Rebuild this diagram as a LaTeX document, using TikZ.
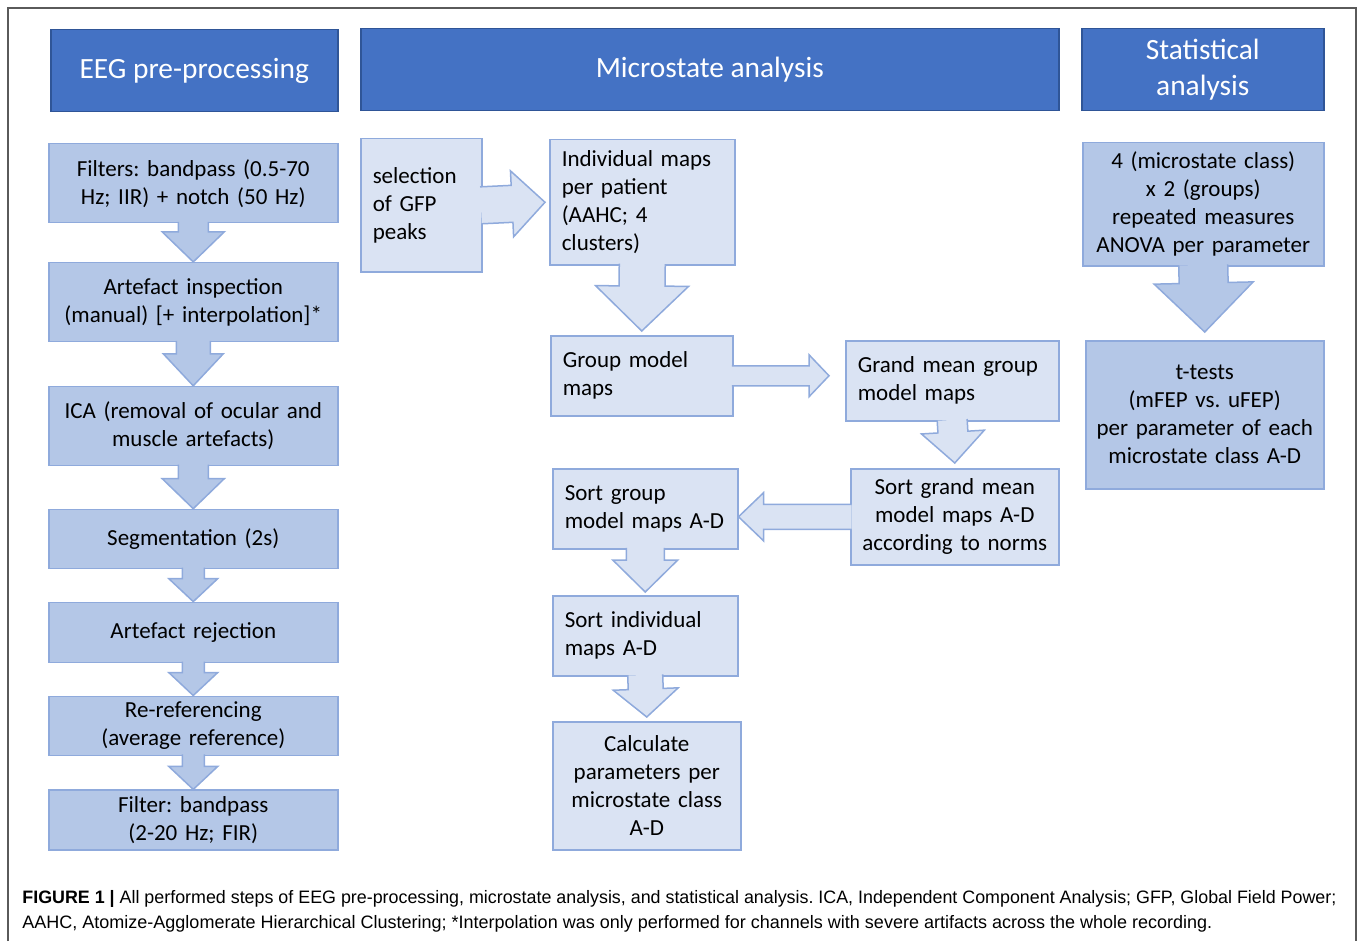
\documentclass[tikz,border=0pt]{standalone}
\usepackage{fontspec}
\setmainfont{Carlito}
\newfontfamily\capfont{Liberation Sans}
\usepackage{graphicx}
\usetikzlibrary{positioning, calc}
\frenchspacing

\definecolor{hdfill}{HTML}{4472C4}
\definecolor{hdline}{HTML}{2F5597}
\definecolor{dkfill}{HTML}{B4C7E7}
\definecolor{ltfill}{HTML}{DAE3F3}
\definecolor{bdline}{HTML}{8FAADC}
\definecolor{framegray}{HTML}{5A5A5A}

% block arrow: fill, start, tip, shaft half width, head half width, head length
\newcommand{\blkarrow}[6]{%
  \coordinate (bs) at (#2);
  \coordinate (bt) at (#3);
  \coordinate (ab) at ($(bs)!-0.8pt!(bt)$);
  \coordinate (hb) at ($(bt)!#6!(bs)$);
  \fill[#1] ($(ab)!#4!90:(bt)$) -- ($(hb)!#4!90:(bt)$) -- ($(hb)!#5!90:(bt)$) -- (bt)
    -- ($(hb)!#5!-90:(bt)$) -- ($(hb)!#4!-90:(bt)$) -- ($(ab)!#4!-90:(bt)$) -- cycle;
  \draw[bdline, line width=0.75pt] ($(ab)!#4!90:(bt)$) -- ($(hb)!#4!90:(bt)$)
    -- ($(hb)!#5!90:(bt)$) -- (bt) -- ($(hb)!#5!-90:(bt)$) -- ($(hb)!#4!-90:(bt)$)
    -- ($(ab)!#4!-90:(bt)$);
}

\begin{document}
\begin{tikzpicture}[x=0.5pt, y=-0.5pt, node distance=20pt,
  hd/.style={draw=hdline, line width=0.75pt, fill=hdfill, text=white, anchor=north west,
    font=\fontsize{14.7}{18}\selectfont, align=center, inner sep=0pt, minimum height=41pt},
  box/.style={draw=bdline, line width=0.75pt, anchor=north west, inner ysep=0pt,
    font=\fontsize{11.5}{14}\selectfont},
  lbox/.style={box, fill=dkfill, align=center, inner xsep=4pt, text width=136.5pt},
  mbox/.style={box, fill=ltfill, align=left, inner xsep=6pt},
  cbox/.style={box, fill=ltfill, align=center, inner xsep=4pt},
  sbox/.style={box, fill=dkfill, align=center, inner xsep=4pt}]

\useasboundingbox (0,0) rectangle (1358,941);
% frame
\draw[framegray, line width=0.75pt] (8,941) -- (8,8) -- (1356,8) -- (1356,941);

% headers
\node[hd, minimum width=143.5pt] (hpre) at (50,29) {EEG pre-processing};
\node[hd, minimum width=349pt] (hmic) at (360,28) {Microstate analysis};
\node[hd, minimum width=121pt] (hsta) at (1081,28) {Statistical\\analysis};

% EEG pre-processing
\node[lbox, minimum height=39.5pt] (filt) at (48,143) {Filters: bandpass (0.5-70\\Hz; IIR) + notch (50 Hz)};
\node[lbox, minimum height=39.5pt, below=19.2pt of filt] (insp) {Artefact inspection\\(manual) [+ interpolation]*};
\node[lbox, minimum height=39.5pt, below=21.7pt of insp] (ica) {ICA (removal of ocular and\\muscle artefacts)};
\node[lbox, minimum height=29.5pt, below=21.2pt of ica] (seg) {Segmentation (2s)};
\node[lbox, minimum height=30pt, below=16.2pt of seg] (rej) {Artefact rejection};
\node[lbox, minimum height=29.5pt, below=16.2pt of rej] (reref) {Re-referencing\\(average reference)};
\node[lbox, minimum height=30pt, below=16.7pt of reref] (bpf) {Filter: bandpass\\(2-20 Hz; FIR)};

% Microstate analysis
\node[mbox, text width=48.5pt, minimum height=66.5pt] (sel) at (360,138) {selection\\of GFP\\peaks};
\node[mbox, text width=80.5pt, minimum height=62.5pt] (ind) at (549,139) {Individual maps\\per patient\\(AAHC; 4\\clusters)};
\node[mbox, text width=79pt, minimum height=40pt] (grp) at (550,335) {Group model\\maps};
\node[mbox, text width=94.5pt, minimum height=40pt] (gmn) at (845,340) {Grand mean group\\model maps};
\node[cbox, text width=96pt, minimum height=48pt] (sgm) at (850,468) {Sort grand mean\\model maps A-D\\according to norms};
\node[mbox, text width=80.5pt, minimum height=40pt] (sgp) at (552,468) {Sort group\\model maps A-D};
\node[mbox, text width=80.5pt, minimum height=40pt] (sind) at (552,595) {Sort individual\\maps A-D};
\node[cbox, text width=86pt, minimum height=64pt] (cpar) at (552,721) {Calculate\\parameters per\\microstate class\\A-D};

% Statistical analysis
\node[sbox, text width=112.5pt, minimum height=61.5pt] (anova) at (1082,142) {4 (microstate class)\\x 2 (groups)\\repeated measures\\ANOVA per parameter};
\node[sbox, text width=111pt, minimum height=74pt] (ttest) at (1085,340) {t-tests\\(mFEP vs. uFEP)\\per parameter of each\\microstate class A-D};

% block arrows
\blkarrow{dkfill}{filt.south}{insp.north}{7.5pt}{15.5pt}{15pt}
\blkarrow{dkfill}{insp.south}{ica.north}{8.5pt}{15pt}{16pt}
\blkarrow{dkfill}{ica.south}{seg.north}{7.5pt}{15.5pt}{15pt}
\blkarrow{dkfill}{seg.south}{rej.north}{5.5pt}{12.25pt}{11.5pt}
\blkarrow{dkfill}{rej.south}{reref.north}{5.5pt}{12.25pt}{11.5pt}
\blkarrow{dkfill}{reref.south}{bpf.north}{5.5pt}{12.25pt}{11.5pt}

\blkarrow{ltfill}{sel.east}{$(ind.west)+(-4,0)$}{9.25pt}{16.5pt}{16.5pt}
\blkarrow{ltfill}{ind.south}{$(grp.north)+(0,-4)$}{11.5pt}{23.25pt}{22.5pt}
\blkarrow{ltfill}{grp.east}{$(gmn.west)+(-16,-5)$}{5pt}{10.5pt}{10pt}
\blkarrow{ltfill}{gmn.south}{$(sgm.north)+(0,-5)$}{7.5pt}{15.75pt}{15.5pt}
\blkarrow{ltfill}{sgm.west}{$(sgp.east)+(0,8)$}{6.25pt}{12pt}{12.5pt}
\blkarrow{ltfill}{sgp.south}{$(sind.north)+(0,-3)$}{9.5pt}{16.25pt}{16pt}
\blkarrow{ltfill}{sind.south}{$(cpar.north)+(0,-4)$}{8.75pt}{16.25pt}{14pt}

\blkarrow{dkfill}{anova.south}{$(ttest.north)+(0,-8)$}{12.25pt}{24.75pt}{24.5pt}

% caption
\node[anchor=base west, inner sep=0pt] (cap1) at (22,903) {\resizebox{657pt}{\height}{\capfont\fontsize{9}{11}\selectfont\textbf{FIGURE 1 |} All performed steps of EEG pre-processing, microstate analysis, and statistical analysis. ICA, Independent Component Analysis; GFP, Global Field Power;}};
\node[anchor=base west, inner sep=0pt] (cap2) at (22,928) {\resizebox{595pt}{\height}{\capfont\fontsize{9}{11}\selectfont AAHC, Atomize-Agglomerate Hierarchical Clustering; *Interpolation was only performed for channels with severe artifacts across the whole recording.}};
\end{tikzpicture}
\end{document}
